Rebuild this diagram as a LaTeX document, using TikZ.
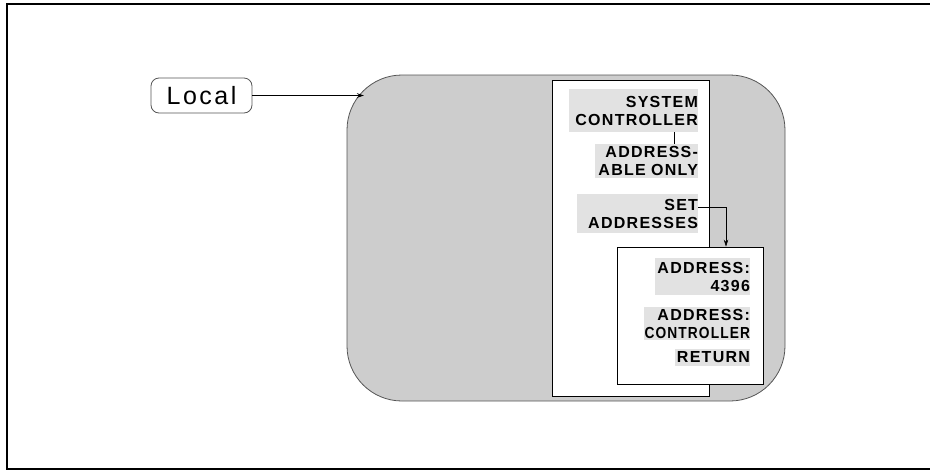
\documentclass[tikz,border=0pt]{standalone}
\usepackage{fontspec}
\usepackage{graphicx}
\setmainfont{Liberation Sans}
\newfontfamily\menufont[LetterSpace=8]{Liberation Sans Bold}
\newfontfamily\localfont[LetterSpace=10]{Liberation Sans}
\usetikzlibrary{arrows.meta}
\definecolor{shade}{HTML}{CDCDCD}
\definecolor{itemshade}{HTML}{E2E2E2}
\definecolor{edge}{HTML}{555555}
\begin{document}
\begin{tikzpicture}[x=1pt,y=-1pt,
  menuitem/.style={fill=itemshade, inner xsep=0pt, inner ysep=0pt, align=right,
    font=\menufont\fontsize{16}{18}\selectfont, anchor=center},
  tip/.style={-{Stealth[length=7pt,width=4.5pt]}},
  conn/.style={draw=black, line width=0.7pt}]
\useasboundingbox (0,0) rectangle (930,472);
\begin{scope}
\clip (0,0) rectangle (930,472);
\draw[line width=2pt] (7,4) rectangle (940,469);
\end{scope}
% big shaded area
\node (big) [draw=edge, line width=0.8pt, fill=shade, rounded corners=55pt,
  minimum width=438pt, minimum height=326pt, inner sep=0pt] at (566,238) {};
% white panel
\node (panel) [draw=black, line width=0.7pt, fill=white,
  minimum width=157pt, minimum height=316pt, inner sep=0pt] at (630.5,238) {};
% local box
\node (local) [draw=edge, line width=0.8pt, fill=white, rounded corners=8pt,
  minimum width=101pt, minimum height=35pt, inner sep=0pt,
  font=\localfont\fontsize{25}{28}\selectfont] at (201.5,95.5) {Local};
\coordinate (hit) at (364,95.5);
\draw[conn, tip] (local.east) -- (hit);
% menu items
\node (sys) [menuitem, text width=129pt, minimum height=43pt] at (633.5,110.5) {SYSTEM\\CONTROLLER};
\node (addr) [menuitem, text width=103pt, minimum height=34pt] at (646.5,161) {ADDRESS-\\ABLE ONLY};
\node (set) [menuitem, text width=121pt, minimum height=39pt] at (637.5,213.5) {SET\\ADDRESSES};
\draw[conn] ([xshift=40.5pt]sys.south) -- ([xshift=40.5pt]sys.south |- addr.north);
% inner box
\node (inner) [draw=black, line width=0.7pt, fill=white,
  minimum width=146pt, minimum height=137pt, inner sep=0pt] at (690,315.5) {};
\node (a4396) [menuitem, text width=95pt, minimum height=37pt] at (702.5,276.5) {ADDRESS:\\4396};
\node (actrl) [menuitem, text width=106pt, minimum height=33pt] at (697,323.5) {ADDRESS:\\\scalebox{0.86}[1]{CONTROLLER}};
\node (ret) [menuitem, text width=75pt, minimum height=17pt] at (712.5,357) {RETURN};
\coordinate (bend) at (726,207);
\draw[conn, tip] ([yshift=6.5pt]set.east) -- (bend) -- (bend |- inner.north);
\end{tikzpicture}
\end{document}
